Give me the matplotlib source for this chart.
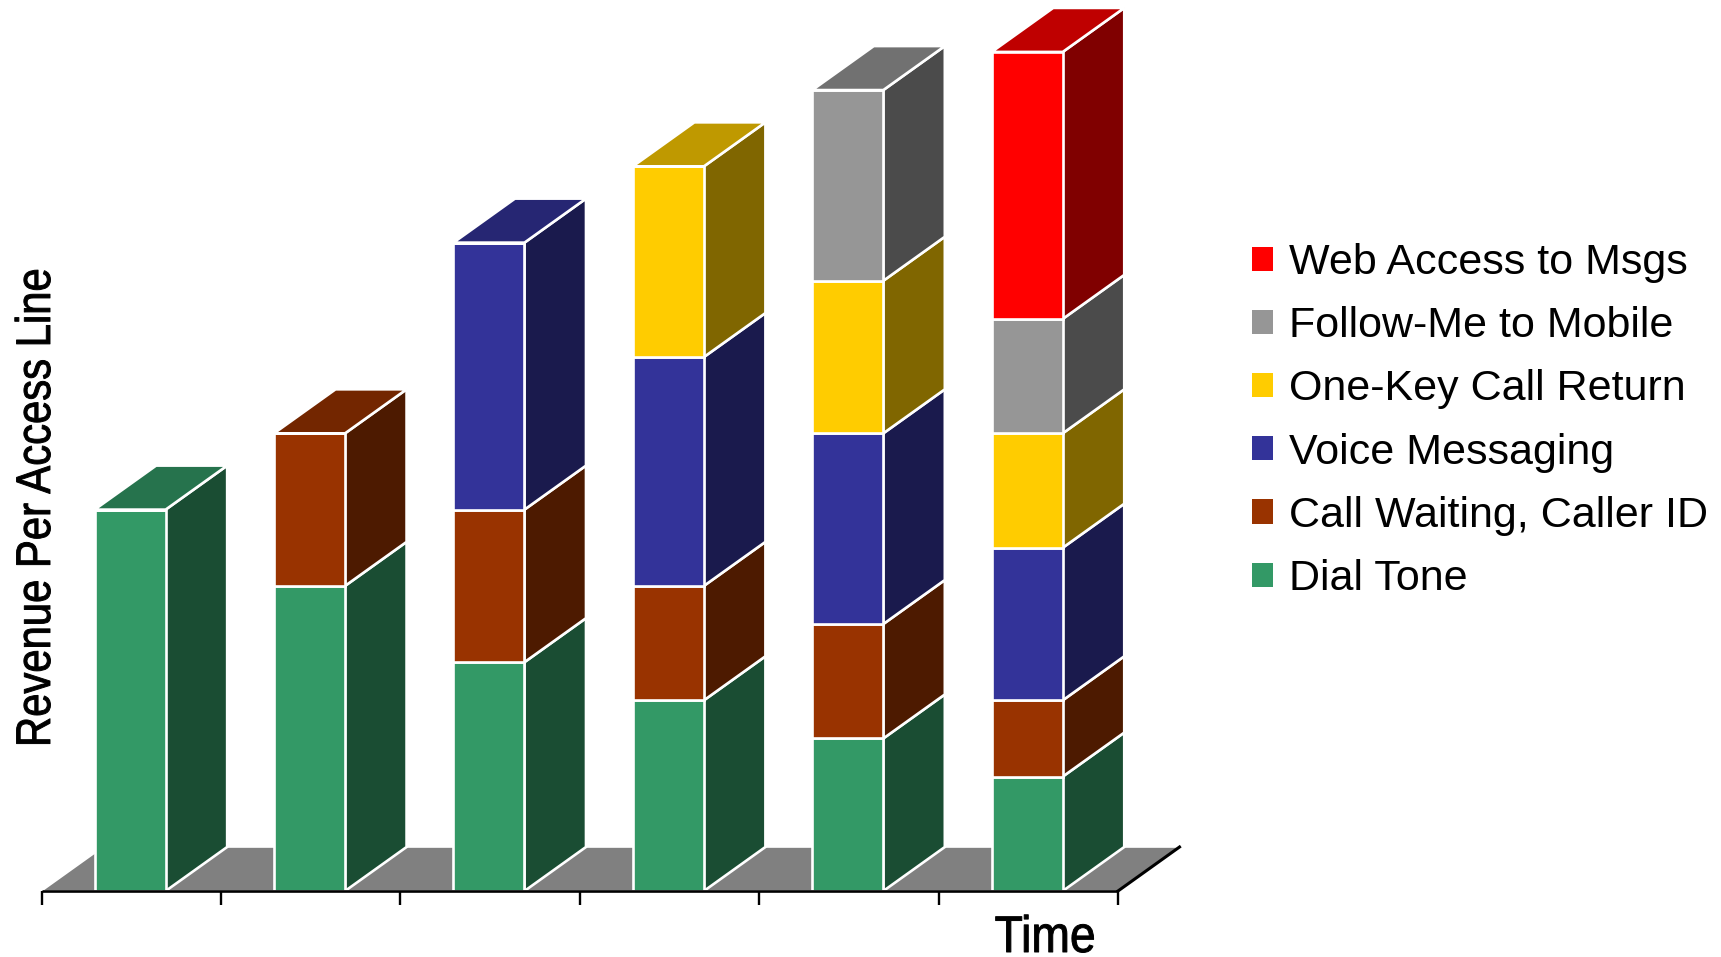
import matplotlib
matplotlib.use('Agg')
import matplotlib.pyplot as plt
import matplotlib.patheffects as pe
from matplotlib.colors import to_rgb
from matplotlib.patches import Patch, Polygon
from matplotlib.transforms import Affine2D
import numpy as np

services = ['Dial Tone', 'Call Waiting, Caller ID', 'Voice Messaging',
            'One-Key Call Return', 'Follow-Me to Mobile', 'Web Access to Msgs']
colors = ['#339966', '#993300', '#333399', '#FFCC00', '#969696', '#FF0000']

dial_tone = [10, 8, 6, 5, 4, 3]
call_waiting = [0, 4, 4, 3, 3, 2]
voice_msg = [0, 0, 7, 6, 5, 4]
one_key = [0, 0, 0, 5, 4, 3]
follow_me = [0, 0, 0, 0, 5, 3]
web_access = [0, 0, 0, 0, 0, 7]
stacks = [dial_tone, call_waiting, voice_msg, one_key, follow_me, web_access]

W, H = 1721, 957
bar_w = 0.396
depth_x = 61.5 / 179.4
depth_y = 44 / 38.14

plt.rcParams['font.family'] = ['Liberation Sans', 'DejaVu Sans']


class Condensed(pe.AbstractPathEffect):
    """Squeeze text about a pixel position and thicken it a little."""

    def __init__(self, sx, sy, cx, cy, stroke=0.7):
        super().__init__()
        self.squeeze = Affine2D().translate(-cx, -cy).scale(sx, sy).translate(cx, cy)
        self.stroke = stroke

    def draw_path(self, renderer, gc, tpath, affine, rgbFace=None):
        gc0 = renderer.new_gc()
        gc0.copy_properties(gc)
        gc0.set_linewidth(self.stroke)
        gc0.set_foreground('black')
        renderer.draw_path(gc0, tpath, affine + self.squeeze, rgbFace)
        gc0.restore()


fig = plt.figure(figsize=(W / 100, H / 100), dpi=100)
ax = fig.add_axes([41.5 / W, (H - 891) / H, (1118 - 41.5) / W, 891 / H])
ax.set_xlim(0, 6)
ax.set_ylim(0, 891 / 38.14)
ax.axis('off')


def shade(col, k):
    return tuple(c * k for c in to_rgb(col))


# floor
ax.add_patch(Polygon([(0, 0), (6, 0), (6 + depth_x, depth_y), (depth_x, depth_y)],
                     closed=True, fc='#808080', ec='white', lw=1.2, clip_on=False, zorder=1))

# stacked columns, each with a front, a side and a lid
xs = np.arange(6) + 0.494
bottoms = np.zeros(6)
for vals, col in zip(stacks, colors):
    vals = np.array(vals, dtype=float)
    for x, b, v in zip(xs, bottoms, vals):
        if v == 0:
            continue
        r = x + bar_w / 2
        ax.add_patch(Polygon([(r, b), (r + depth_x, b + depth_y),
                              (r + depth_x, b + v + depth_y), (r, b + v)],
                             closed=True, fc=shade(col, 0.5), ec='white', lw=1.9,
                             clip_on=False, zorder=3))
    ax.bar(xs, vals, width=bar_w, bottom=bottoms, color=col, edgecolor='white',
           linewidth=1.9, zorder=4, clip_on=False)
    bottoms = bottoms + vals

# lids take the colour of the highest segment in each column
for i, x in enumerate(xs):
    top_col = colors[max(j for j, s in enumerate(stacks) if s[i] > 0)]
    t = bottoms[i]
    l, r = x - bar_w / 2, x + bar_w / 2
    ax.add_patch(Polygon([(l, t), (r, t), (r + depth_x, t + depth_y), (l + depth_x, t + depth_y)],
                         closed=True, fc=shade(top_col, 0.75), ec='white', lw=1.9,
                         clip_on=False, zorder=3))

# axis line, ticks and the right hand floor edge
ax.plot([0, 6], [0, 0], color='black', lw=1.9, zorder=6, clip_on=False, solid_capstyle='butt')
ax.plot([6, 6 + depth_x], [0, depth_y], color='black', lw=2.2, zorder=6, clip_on=False)
for t in range(7):
    ax.plot([t, t], [0, -14 / 38.14], color='black', lw=1.7, zorder=6, clip_on=False,
            solid_capstyle='butt')

time_x, time_y = 1045, 952
fig.text(time_x / W, 1 - time_y / H, 'Time', ha='center', va='baseline', fontsize=37,
         path_effects=[Condensed(0.9, 1, time_x, H - time_y)])
ylab_x, ylab_y = 50, 507.5
fig.text(ylab_x / W, 1 - ylab_y / H, 'Revenue Per Access Line', rotation=90,
         rotation_mode='anchor', ha='center', va='baseline', fontsize=35,
         path_effects=[Condensed(1, 0.86, ylab_x, H - ylab_y)])

handles = [Patch(fc=c, ec='none') for c in colors[::-1]]
fig.legend(handles, services[::-1], loc='center left', bbox_to_anchor=(1252 / W, 1 - 421 / H),
           frameon=False, fontsize=31, handlelength=0.49, handleheight=0.49,
           handletextpad=0.38, labelspacing=0.539, borderpad=0, borderaxespad=0)

fig.savefig('out.png', dpi=100)
